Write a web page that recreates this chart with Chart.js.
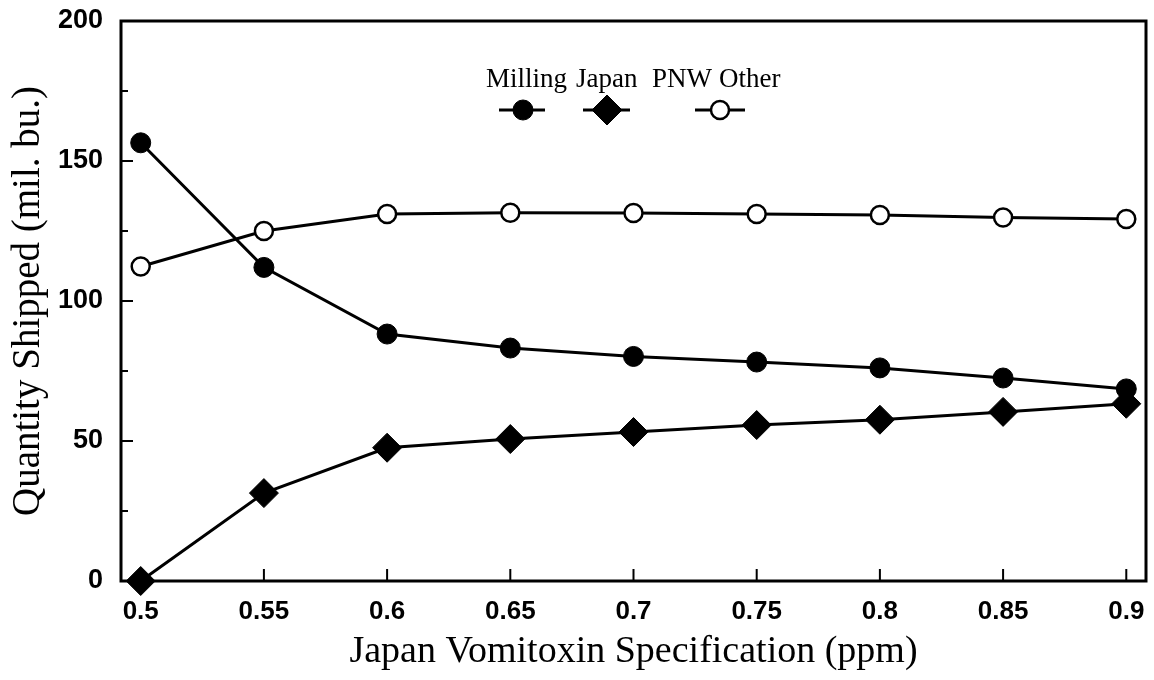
<!DOCTYPE html>
<html lang="en">
<head>
  <meta charset="UTF-8">
  <title>Quantity Shipped vs Japan Vomitoxin Specification</title>
  <style>
    html, body { margin: 0; padding: 0; background: #fff; }
    #wrap { width: 1154px; height: 680px; }
  </style>
</head>
<body>
  <div id="wrap"><canvas id="grafico" width="1154" height="680"></canvas></div>

  <script src="https://cdn.jsdelivr.net/npm/chart.js"></script>
  <script>
    // datos
    const especificacion = [0.5, 0.55, 0.6, 0.65, 0.7, 0.75, 0.8, 0.85, 0.9];
    const milling = [156.5, 112, 88.2, 83.2, 80.2, 78.2, 76.1, 72.5, 68.6];
    const japan = [0, 31.4, 47.6, 50.7, 53.2, 55.7, 57.6, 60.4, 63.3];
    const pnwOther = [112.3, 125, 131.1, 131.5, 131.4, 131.1, 130.7, 129.8, 129.3];
    const xTicks = [0.5, 0.55, 0.6, 0.65, 0.7, 0.75, 0.8, 0.85, 0.9];
    const yTicks = [0, 50, 100, 150, 200];
    const yMinorTicks = [25, 75, 125, 175];
    const leyendaNombres = ['Milling', 'Japan', 'PNW', 'Other'];

    const puntos = serie => especificacion.map((x, i) => ({ x: x, y: serie[i] }));

    // marco, marcas hacia dentro y leyenda
    const marcoPlugin = {
      id: 'marco',
      afterDraw(chart) {
        const ctx = chart.ctx;
        const a = chart.chartArea;
        const sx = chart.scales.x, sy = chart.scales.y;
        ctx.save();
        ctx.strokeStyle = '#000';
        ctx.lineWidth = 3;
        ctx.strokeRect(a.left, a.top, a.right - a.left, a.bottom - a.top);

        ctx.lineWidth = 2;
        ctx.beginPath();
        yTicks.forEach(v => {
          const y = sy.getPixelForValue(v);
          ctx.moveTo(a.left, y); ctx.lineTo(a.left + 12, y);
        });
        yMinorTicks.forEach(v => {
          const y = sy.getPixelForValue(v);
          ctx.moveTo(a.left, y); ctx.lineTo(a.left + 7, y);
        });
        xTicks.forEach(v => {
          const x = sx.getPixelForValue(v);
          ctx.moveTo(x, a.bottom); ctx.lineTo(x, a.bottom - 12);
        });
        ctx.stroke();

        // leyenda
        ctx.fillStyle = '#000';
        ctx.font = '27px "Liberation Serif", "Times New Roman", serif';
        ctx.textBaseline = 'alphabetic';
        const posTexto = [486, 576, 652, 719];
        leyendaNombres.forEach((t, i) => ctx.fillText(t, posTexto[i], 87));

        const muestras = [
          { x: 523, x0: 499, x1: 545, ds: 0, r: 10 },
          { x: 607, x0: 583, x1: 630, ds: 1, r: 15 },
          { x: 720, x0: 695, x1: 745, ds: 2, r: 9 }
        ];
        muestras.forEach(m => {
          const d = chart.data.datasets[m.ds];
          ctx.strokeStyle = '#000';
          ctx.lineWidth = 3;
          ctx.beginPath();
          ctx.moveTo(m.x0, 110); ctx.lineTo(m.x1, 110);
          ctx.stroke();
          ctx.fillStyle = d.pointBackgroundColor;
          ctx.lineWidth = d.pointBorderWidth;
          Chart.helpers.drawPoint(ctx, {
            pointStyle: d.pointStyle,
            radius: m.r,
            rotation: 0,
            borderWidth: d.pointBorderWidth
          }, m.x, 110);
        });
        ctx.restore();
      }
    };

    const ctx = document.getElementById('grafico').getContext('2d');
    new Chart(ctx, {
      type: 'line',
      data: {
        datasets: [
          {
            label: 'Milling',
            data: puntos(milling),
            borderColor: '#000',
            borderWidth: 3,
            pointStyle: 'circle',
            pointRadius: 10,
            pointBackgroundColor: '#000',
            pointBorderColor: '#000',
            pointBorderWidth: 1,
            tension: 0
          },
          {
            label: 'Japan',
            data: puntos(japan),
            borderColor: '#000',
            borderWidth: 3,
            pointStyle: 'rectRot',
            pointRadius: 14.5,
            pointBackgroundColor: '#000',
            pointBorderColor: '#000',
            pointBorderWidth: 1,
            tension: 0
          },
          {
            label: 'PNW Other',
            data: puntos(pnwOther),
            borderColor: '#000',
            borderWidth: 3,
            pointStyle: 'circle',
            pointRadius: 9,
            pointBackgroundColor: '#fff',
            pointBorderColor: '#000',
            pointBorderWidth: 2.5,
            tension: 0
          }
        ]
      },
      options: {
        responsive: false,
        animation: false,
        clip: false,
        layout: { autoPadding: false, padding: { top: 21, right: 8, left: 0, bottom: 0 } },
        plugins: {
          legend: { display: false },
          tooltip: { enabled: false }
        },
        scales: {
          x: {
            type: 'linear',
            min: 0.492,
            max: 0.908,
            afterBuildTicks: s => { s.ticks = xTicks.map(v => ({ value: v })); },
            afterFit: s => {
              s.height = 99;
              s.paddingLeft = 0; s.paddingRight = 0;
            },
            grid: { display: false, drawTicks: false },
            border: { display: false },
            ticks: {
              padding: 15,
              color: '#000',
              font: { family: '"Liberation Sans", Arial, sans-serif', size: 26, weight: 'bold' },
              callback: v => String(+v.toFixed(2))
            },
            title: {
              display: true,
              text: 'Japan Vomitoxin Specification (ppm)',
              color: '#000',
              padding: { top: 0, bottom: 5 },
              font: { family: '"Liberation Serif", "Times New Roman", serif', size: 38 }
            }
          },
          y: {
            min: 0,
            max: 200,
            afterBuildTicks: s => { s.ticks = yTicks.map(v => ({ value: v })); },
            afterFit: s => {
              s.width = 121;
              s.paddingTop = 0; s.paddingBottom = 0;
            },
            grid: { display: false, drawTicks: false },
            border: { display: false },
            ticks: {
              padding: 18,
              color: '#000',
              font: { family: '"Liberation Sans", Arial, sans-serif', size: 27, weight: 'bold' }
            },
            title: {
              display: true,
              text: 'Quantity Shipped (mil. bu.)',
              color: '#000',
              padding: { top: 5, bottom: 0 },
              font: { family: '"Liberation Serif", "Times New Roman", serif', size: 39 }
            }
          }
        }
      },
      plugins: [marcoPlugin]
    });
  </script>
</body>
</html>
